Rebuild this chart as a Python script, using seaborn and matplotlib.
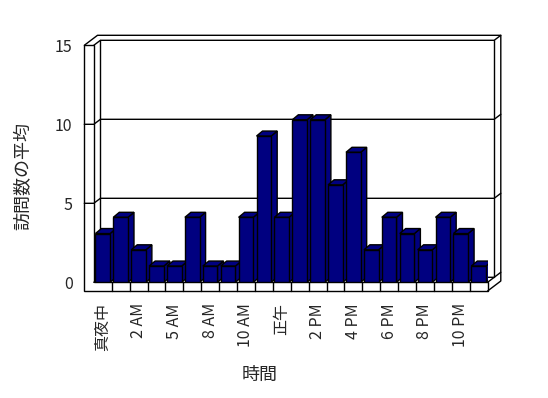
import matplotlib
matplotlib.use("Agg")
import matplotlib.pyplot as plt
from matplotlib.patches import Polygon
import seaborn as sns
import pandas as pd

# data (hours 4 AM and 7 AM have no entry)
hours = ["真夜中", "1 AM", "2 AM", "3 AM", "5 AM", "6 AM", "8 AM", "9 AM", "10 AM", "11 AM",
         "正午", "1 PM", "2 PM", "3 PM", "4 PM", "5 PM", "6 PM", "7 PM", "8 PM", "9 PM",
         "10 PM", "11 PM"]
visits = [3, 4, 2, 1, 1, 4, 1, 1, 4, 9, 4, 10, 10, 6, 8, 2, 4, 3, 2, 4, 3, 1]
y_ticks = [0, 5, 10, 15]

sns.set_style("white")
plt.rcParams["font.family"] = ["Noto Sans CJK JP", "DejaVu Sans"]

W, H = 548, 398
fig = plt.figure(figsize=(W / 100, H / 100), dpi=100)

# plot area in pixels (front plane)
px_cat = 17.9
px_val = 16.25
left_px, zero_px = 93.8, 282.3
n = len(hours)
ax = fig.add_axes([left_px / W, (H - zero_px) / H, n * px_cat / W, 15 * px_val / H])

df = pd.DataFrame({"hour": hours, "visits": visits})
sns.barplot(data=df, x="hour", y="visits", color="#000080", saturation=1,
            width=0.82, edgecolor="black", linewidth=1.0, ax=ax)
bars = list(ax.patches)

xl, xr = -0.5, n - 0.5
ax.set_xlim(xl, xr)
ax.set_ylim(0, 15)

# 3D look: oblique offsets in data units
Dx, Dy = 6.6 / px_cat, 5 / px_val        # wall depth
bdx, bdy = 6.0 / px_cat, 5 / px_val      # bar depth
persp = 15.8 / px_val                    # back wall appears slightly smaller
wt, ft = 9.5 / px_cat, 8.7 / px_val      # wall / floor thickness
lw = 1.0
kw = dict(color="black", lw=lw, clip_on=False, zorder=1)

def f(v):
    return persp * v

def b(v):
    return persp * v + Dy

top = 15
# left wall front + floor front (L shape)
ax.add_patch(Polygon([(xl - wt, f(top)), (xl, f(top)), (xl, 0), (xr, 0), (xr, -ft), (xl - wt, -ft)],
                     closed=True, facecolor="white", edgecolor="black", lw=lw, clip_on=False, zorder=1))
for k in range(1, n):
    ax.plot([xl + k, xl + k], [-ft, 0], **kw)

# outer outline of the box
ax.plot([xl - wt, xl - wt + 2 * Dx, xr + 2 * Dx, xr + 2 * Dx, xr],
        [f(top), f(top) + 2 * Dy, f(top) + 2 * Dy, -ft + 2 * Dy, -ft], **kw)
# inner edges of the back wall
ax.plot([xl, xl + Dx, xr + Dx, xr + 2 * Dx], [f(top), b(top), b(top), b(top) + Dy], **kw)
ax.plot([xl + Dx, xl + Dx], [b(top), b(0)], **kw)
ax.plot([xr + Dx, xr + Dx], [b(top), b(0)], **kw)
ax.plot([xl, xl + Dx, xr + Dx], [0, b(0), b(0)], **kw)
ax.plot([xr, xr + Dx, xr + 2 * Dx], [0, b(0), b(0) + Dy], **kw)

# gridlines
for v in y_ticks[1:-1]:
    ax.plot([xl - wt, xl, xl + Dx, xr + Dx, xr + 2 * Dx],
            [f(v), f(v), b(v), b(v), b(v) + Dy], **kw)

# bar top and side faces, drawn left to right
for i, p in enumerate(bars):
    x0, w, h = p.get_x(), p.get_width(), p.get_height()
    p.set_zorder(4 + 2 * i)
    topf = Polygon([(x0, h), (x0 + w, h), (x0 + w + bdx, h + bdy), (x0 + bdx, h + bdy)],
                   closed=True, facecolor="#000080", edgecolor="black", lw=1.0, zorder=3 + 2 * i)
    side = Polygon([(x0 + w, 0), (x0 + w + bdx, bdy), (x0 + w + bdx, h + bdy), (x0 + w, h)],
                   closed=True, facecolor="#000080", edgecolor="black", lw=1.0, zorder=3 + 2 * i)
    ax.add_patch(side)
    ax.add_patch(topf)

for s in ax.spines.values():
    s.set_visible(False)

ax.set_yticks([f(v) for v in y_ticks])
ax.set_yticklabels([str(v) for v in y_ticks], fontsize=11.5)
ax.set_xticks(range(n))
ax.set_xticklabels([h if i % 2 == 0 else "" for i, h in enumerate(hours)], rotation=90, fontsize=11.5)
ax.tick_params(axis="y", length=0, pad=15.3)
ax.tick_params(axis="x", length=0, pad=15)
ax.set_xlabel("")
ax.set_ylabel("")

fig.text(260 / W, 1 - 375 / H, "時間", ha="center", va="center", fontsize=13)
fig.text(23 / W, 1 - 176 / H, "訪問数の平均", ha="center", va="center", rotation=90, fontsize=13)

fig.savefig("out.png", dpi=100, facecolor="white")
